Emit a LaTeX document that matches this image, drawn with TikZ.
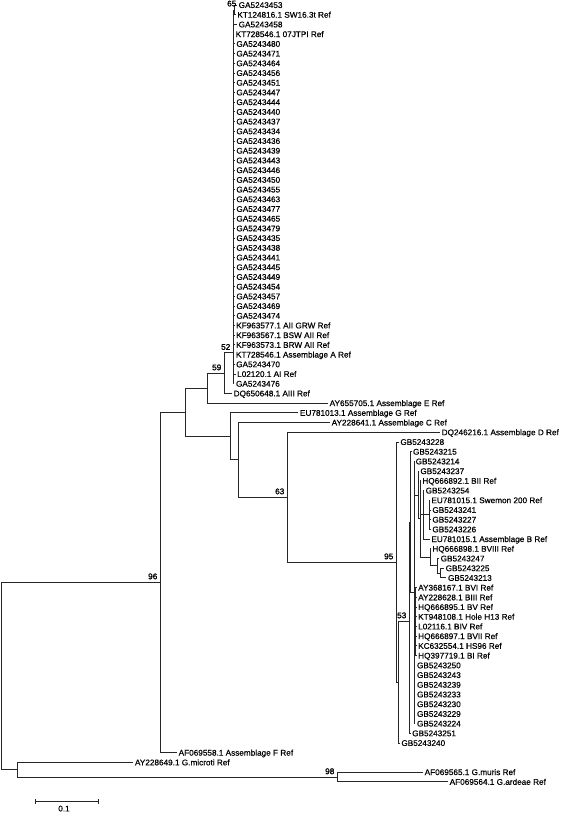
\documentclass[tikz,border=0pt]{standalone}
\usepackage{fontspec}
\setmainfont{Liberation Sans}
\newfontfamily\leaffont{Liberation Sans}[FakeBold=0.45]
\newfontfamily\bsfont{Liberation Sans}[FakeBold=1.6]
\newcommand{\leafnode}[3]{\node[leaf] (L#1) at (#2,{5+9.71*#1}) {#3};}
\begin{document}
\begin{tikzpicture}[x=1pt,y=-1pt,
  leaf/.style={anchor=west,inner xsep=1.5pt,inner ysep=0pt,text height=5.9pt,text depth=0pt,font=\leaffont\fontsize{8.2}{9}\selectfont},
  bs/.style={anchor=south east,inner sep=0pt,font=\bsfont\fontsize{8.2}{9}\selectfont,xshift=-2.5pt,yshift=2.5pt},
  br/.style={line width=0.8pt,draw=black!85}]
\useasboundingbox (0,0) rectangle (568,813);
% ---- leaves: clade A
\leafnode{0}{237}{GA5243453}
\leafnode{1}{235.7}{KT124816.1 SW16.3t Ref}
\leafnode{2}{237}{GA5243458}
\leafnode{3}{234}{KT728546.1 07JTPI Ref}
\leafnode{4}{234.7}{GA5243480}
\leafnode{5}{234.7}{GA5243471}
\leafnode{6}{234.7}{GA5243464}
\leafnode{7}{234.7}{GA5243456}
\leafnode{8}{234.7}{GA5243451}
\leafnode{9}{234.7}{GA5243447}
\leafnode{10}{234.7}{GA5243444}
\leafnode{11}{234.7}{GA5243440}
\leafnode{12}{234.7}{GA5243437}
\leafnode{13}{234.7}{GA5243434}
\leafnode{14}{234.7}{GA5243436}
\leafnode{15}{234.7}{GA5243439}
\leafnode{16}{234.7}{GA5243443}
\leafnode{17}{234.7}{GA5243446}
\leafnode{18}{234.7}{GA5243450}
\leafnode{19}{234.7}{GA5243455}
\leafnode{20}{234.7}{GA5243463}
\leafnode{21}{234.7}{GA5243477}
\leafnode{22}{234.7}{GA5243465}
\leafnode{23}{234.7}{GA5243479}
\leafnode{24}{234.7}{GA5243435}
\leafnode{25}{234.7}{GA5243438}
\leafnode{26}{234.7}{GA5243441}
\leafnode{27}{234.7}{GA5243445}
\leafnode{28}{234.7}{GA5243449}
\leafnode{29}{234.7}{GA5243454}
\leafnode{30}{234.7}{GA5243457}
\leafnode{31}{234.7}{GA5243469}
\leafnode{32}{234.7}{GA5243474}
\leafnode{33}{234.5}{KF963577.1 AII GRW Ref}
\leafnode{34}{234.5}{KF963567.1 BSW AII Ref}
\leafnode{35}{234.5}{KF963573.1 BRW AII Ref}
\leafnode{36}{234.3}{KT728546.1 Assemblage A Ref}
\leafnode{37}{234.5}{GA5243470}
\leafnode{38}{235.5}{L02120.1 AI Ref}
\leafnode{39}{234.3}{GA5243476}
\leafnode{40}{232}{DQ650648.1 AIII Ref}
\leafnode{41}{328}{AY655705.1 Assemblage E Ref}
\leafnode{42}{298.3}{EU781013.1 Assemblage G Ref}
\leafnode{43}{330}{AY228641.1 Assemblage C Ref}
\leafnode{44}{440}{DQ246216.1 Assemblage D Ref}
% ---- clade B
\leafnode{45}{398.7}{GB5243228}
\leafnode{46}{411.3}{GB5243215}
\leafnode{47}{414}{GB5243214}
\leafnode{48}{418.7}{GB5243237}
\leafnode{49}{420.7}{HQ666892.1 BII Ref}
\leafnode{50}{424}{GB5243254}
\leafnode{51}{429.7}{EU781015.1 Swemon 200 Ref}
\leafnode{52}{430.7}{GB5243241}
\leafnode{53}{430.7}{GB5243227}
\leafnode{54}{430.7}{GB5243226}
\leafnode{55}{429.7}{EU781015.1 Assemblage B Ref}
\leafnode{56}{430.7}{HQ666898.1 BVIII Ref}
\leafnode{57}{439}{GB5243247}
\leafnode{58}{444}{GB5243225}
\leafnode{59}{446.3}{GB5243213}
\leafnode{60}{416.5}{AY368167.1 BVI Ref}
\leafnode{61}{416.5}{AY228628.1 BIII Ref}
\leafnode{62}{416.5}{HQ666895.1 BV Ref}
\leafnode{63}{416.5}{KT948108.1 Hole H13 Ref}
\leafnode{64}{416.5}{L02116.1 BIV Ref}
\leafnode{65}{416.5}{HQ666897.1 BVII Ref}
\leafnode{66}{416.5}{KC632554.1 HS96 Ref}
\leafnode{67}{416.5}{HQ397719.1 BI Ref}
\leafnode{68}{415.3}{GB5243250}
\leafnode{69}{415.3}{GB5243243}
\leafnode{70}{415.3}{GB5243239}
\leafnode{71}{415.3}{GB5243233}
\leafnode{72}{415.3}{GB5243230}
\leafnode{73}{415.3}{GB5243229}
\leafnode{74}{415.3}{GB5243224}
\leafnode{75}{410.5}{GB5243251}
\leafnode{76}{399.7}{GB5243240}
% ---- outgroups
\leafnode{77}{177}{AF069558.1 Assemblage F Ref}
\leafnode{78}{133.3}{AY228649.1 G.microti Ref}
\leafnode{79}{423}{AF069565.1 G.muris Ref}
\leafnode{80}{448}{AF069564.1 G.ardeae Ref}
% ---- internal nodes
\coordinate (R0) at (1,676);
\coordinate (O1) at (17,769.7);
\coordinate (N98) at (337,776.9);
\coordinate (N96) at (160,582);
\coordinate (W) at (185.7,412);
\coordinate (X) at (207,388);
\coordinate (N59) at (224,373);
\coordinate (N52) at (233,352.6);
\coordinate (N65) at (234.5,10);
\coordinate (Z) at (230.7,436);
\coordinate (V) at (238,459.8);
\coordinate (N63) at (287,497);
\coordinate (N95) at (396,562);
\coordinate (P) at (398,682);
\coordinate (N53) at (409,621);
\coordinate (Nb) at (410.5,522);
\coordinate (Nc) at (414,592.5);
\coordinate (Nj) at (415.5,621.6);
\coordinate (Ne) at (418.3,495);
\coordinate (Nf) at (420,518.6);
\coordinate (Ng) at (423.3,514.8);
\coordinate (Nh) at (429.3,514.75);
\coordinate (Ni) at (430,557.3);
\coordinate (Q) at (437.3,565.8);
\coordinate (R) at (440,573);
% ---- branches
\draw[br] (R0) |- (N96); \draw[br] (R0) |- (O1);
\draw[br] (O1) |- (L78.west); \draw[br] (O1) |- (N98);
\draw[br] (N98) |- (L79.west); \draw[br] (N98) |- (L80.west);
\draw[br] (N96) |- (W); \draw[br] (N96) |- (L77.west);
\draw[br] (W) |- (X); \draw[br] (W) |- (Z);
\draw[br] (X) |- (N59); \draw[br] (X) |- (L41.west);
\draw[br] (N59) |- (N52); \draw[br] (N59) |- (L40.west);
\draw[br] (N52) |- (N65);
\foreach \i in {2,...,39} {\draw[br] (N52) |- (L\i.west);}
\draw[br] (N65) |- (L0.west); \draw[br] (N65) |- (L1.west);
\draw[br] (Z) |- (L42.west); \draw[br] (Z) |- (V);
\draw[br] (V) |- (L43.west); \draw[br] (V) |- (N63);
\draw[br] (N63) |- (L44.west); \draw[br] (N63) |- (N95);
\draw[br] (N95) |- (L45.west); \draw[br] (N95) |- (P);
\draw[br] (P) |- (N53); \draw[br] (P) |- (L76.west);
\draw[br] (N53) |- (Nb); \draw[br] (N53) |- (L75.west);
\draw[br] (Nb) |- (L46.west); \draw[br] (Nb) |- (Nc);
\draw[br] (Nc) |- (L47.west); \draw[br] (Nc) |- (Ne); \draw[br] (Nc) |- (Nj);
\foreach \i in {68,...,74} {\draw[br] (Nc) |- (L\i.west);}
\foreach \i in {60,...,67} {\draw[br] (Nj) |- (L\i.west);}
\draw[br] (Ne) |- (L48.west); \draw[br] (Ne) |- (Nf);
\draw[br] (Nf) |- (L49.west); \draw[br] (Nf) |- (Ng); \draw[br] (Nf) |- (Ni);
\draw[br] (Ng) |- (L50.west); \draw[br] (Ng) |- (Nh); \draw[br] (Ng) |- (L55.west);
\foreach \i in {51,...,54} {\draw[br] (Nh) |- (L\i.west);}
\draw[br] (Ni) |- (L56.west); \draw[br] (Ni) |- (Q);
\draw[br] (Q) |- (L57.west); \draw[br] (Q) |- (R);
\draw[br] (R) |- (L58.west); \draw[br] (R) |- (L59.west);
% ---- bootstrap values
\node[bs,xshift=4.5pt,yshift=0.8pt] (b65) at (N65) {65};
\node[bs] (b52) at (N52) {52};
\node[bs] (b59) at (N59) {59};
\node[bs] (b96) at (N96) {96};
\node[bs] (b63) at (N63) {63};
\node[bs] (b95) at (N95) {95};
\node[bs] (b53) at (N53) {53};
\node[bs] (b98) at (N98) {98};
% ---- scale bar
\coordinate (s1) at (35,801.7);
\coordinate (s2) at (98.3,801.7);
\draw[br] (s1) -- (s2);
\draw[br] ([yshift=2.5pt]s1) -- ([yshift=-2.5pt]s1);
\draw[br] ([yshift=2.5pt]s2) -- ([yshift=-2.5pt]s2);
\node[anchor=north,inner sep=0pt,font=\leaffont\fontsize{8.2}{9}\selectfont] (sl) at (64,805.5) {0.1};
\end{tikzpicture}
\end{document}
